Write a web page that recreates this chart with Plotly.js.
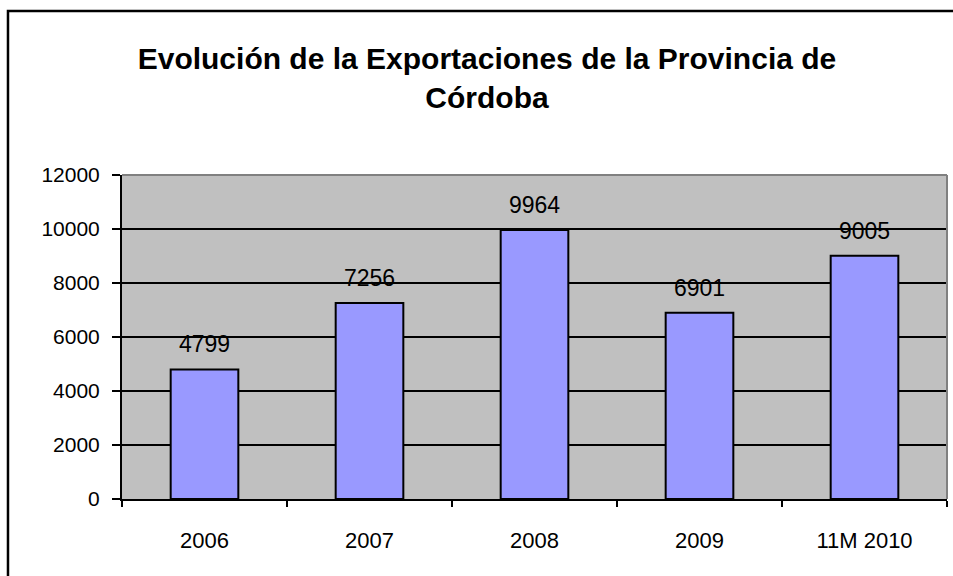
<!DOCTYPE html>
<html>
<head>
<meta charset="utf-8">
<script src="https://cdn.plot.ly/plotly-3.0.1.min.js"></script>
<style>
  body { margin: 0; padding: 0; background: #ffffff; }
  #chartDiv { width: 953px; height: 576px; }
</style>
</head>
<body>
<div id="chartDiv"></div>
<script>
// chart values
var years = ['2006', '2007', '2008', '2009', '11M 2010'];
var exportValues = [4799, 7256, 9964, 6901, 9005];
var yTicks = [0, 2000, 4000, 6000, 8000, 10000, 12000];

var font = 'Liberation Sans, Arial, sans-serif';

var bars = {
    x: years,
    y: exportValues,
    type: 'bar',
    marker: {
        color: '#9999ff',
        line: { color: '#000000', width: 2 }
    },
    hoverinfo: 'x+y'
};

// value labels above each bar
var labels = [];
for (var i = 0; i < years.length; i++) {
    labels.push({
        x: i,
        y: exportValues[i],
        text: String(exportValues[i]),
        showarrow: false,
        yanchor: 'bottom',
        yshift: 10,
        font: { family: font, size: 23, color: '#000000' }
    });
}

var layout = {
    width: 953,
    height: 576,
    autosize: false,
    paper_bgcolor: '#ffffff',
    plot_bgcolor: '#c0c0c0',
    margin: { l: 122, r: 6, t: 175, b: 77 },
    showlegend: false,
    bargap: 0.59,
    title: {
        text: 'Evolución de la Exportaciones de la Provincia de<br>Córdoba',
        font: { family: font, size: 30, color: '#000000', weight: 'bold' },
        xref: 'container',
        x: 0.511,
        xanchor: 'center',
        yref: 'container',
        y: 0.88,
        yanchor: 'top'
    },
    xaxis: {
        type: 'category',
        showgrid: false,
        showline: true,
        linecolor: '#000000',
        linewidth: 2,
        ticks: 'outside',
        tickson: 'boundaries',
        ticklen: 6,
        tickwidth: 2,
        tickcolor: '#000000',
        ticklabelstandoff: 21,
        tickangle: 0,
        tickfont: { family: font, size: 22, color: '#000000' }
    },
    yaxis: {
        range: [0, 12000],
        tickvals: yTicks,
        ticktext: yTicks.map(String),
        showgrid: true,
        gridcolor: '#000000',
        gridwidth: 2,
        zeroline: false,
        showline: true,
        linecolor: '#000000',
        linewidth: 2,
        ticks: 'outside',
        ticklen: 8,
        tickwidth: 2,
        tickcolor: '#000000',
        ticklabelstandoff: 8,
        tickfont: { family: font, size: 21, color: '#000000' }
    },
    annotations: labels,
    shapes: [
        // grey edge on top and right of the plot area
        { type: 'line', xref: 'paper', yref: 'paper', x0: 0, x1: 1, y0: 1, y1: 1,
          line: { color: '#808080', width: 2 } },
        { type: 'line', xref: 'paper', yref: 'paper', x0: 1, x1: 1, y0: 0, y1: 1,
          line: { color: '#808080', width: 2 } },
        // outer chart frame
        { type: 'rect', xref: 'paper', yref: 'paper',
          x0: -0.1382, x1: 1.03, y0: -0.3, y1: 1.506,
          line: { color: '#000000', width: 2.5 } }
    ]
};

Plotly.newPlot('chartDiv', [bars], layout, { displayModeBar: false, staticPlot: true });
</script>
</body>
</html>
